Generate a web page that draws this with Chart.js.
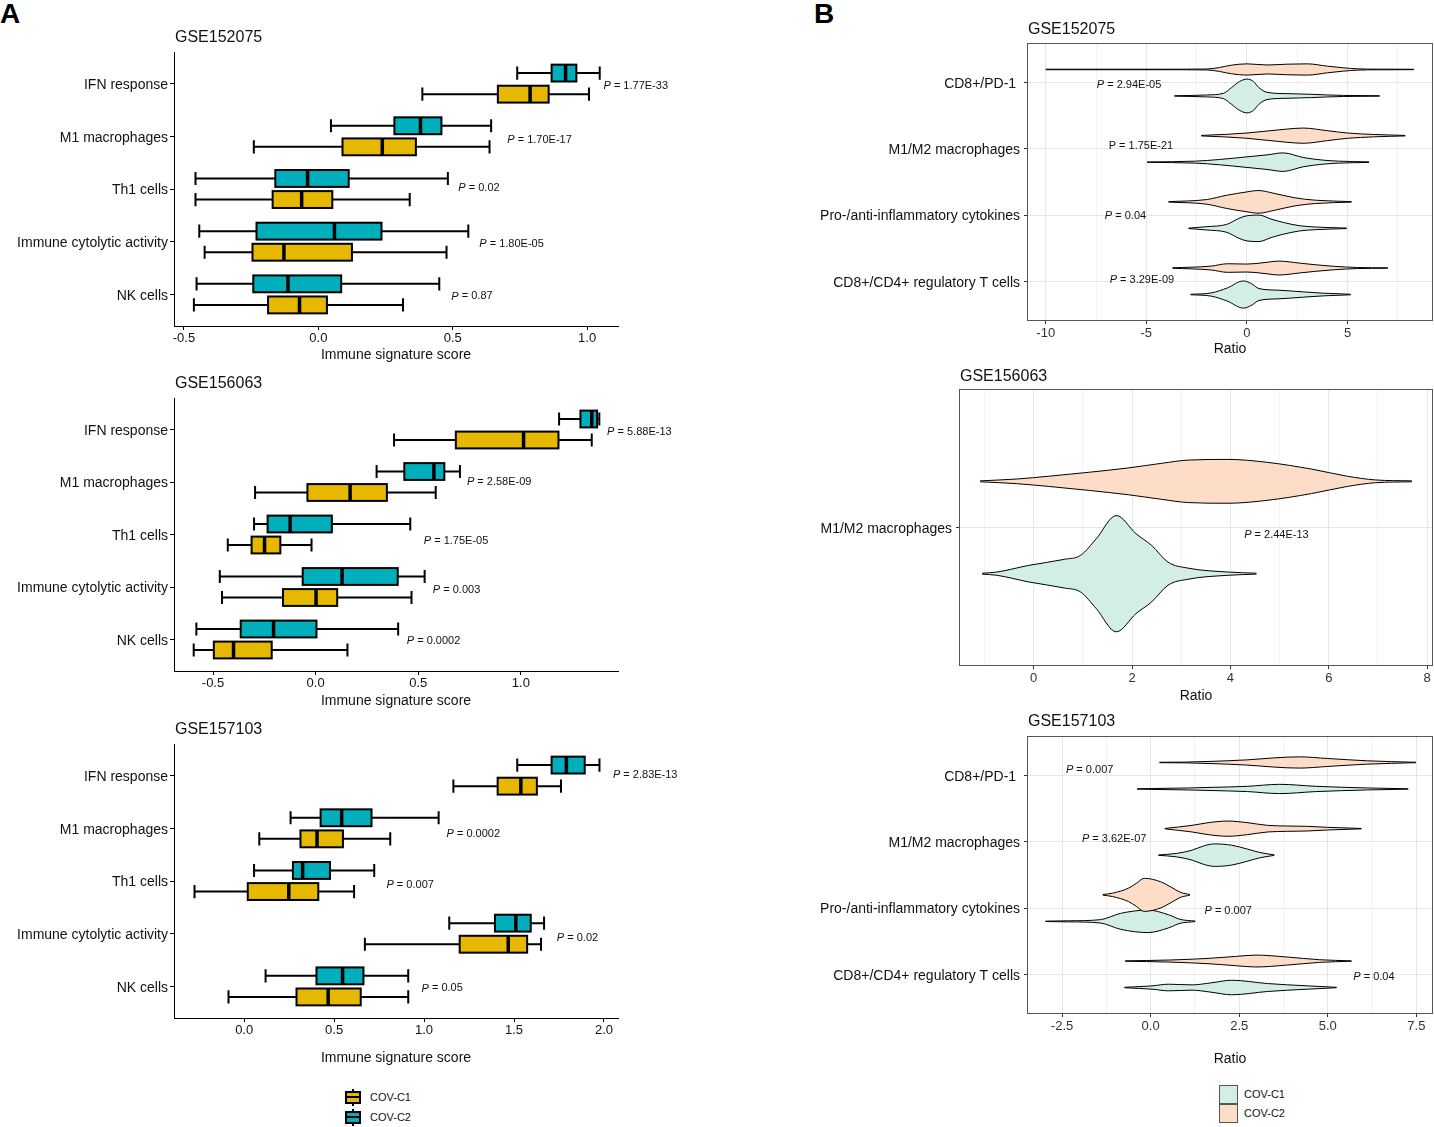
<!DOCTYPE html>
<html>
<head>
<meta charset="utf-8">
<script src="https://cdn.jsdelivr.net/npm/chart.js@4.4.1/dist/chart.umd.min.js"></script>
<style>
  body { margin: 0; width: 1434px; height: 1127px; position: relative; background: #fff; overflow: hidden;
         font-family: "Liberation Sans", Arial, sans-serif; color: #111; }
  canvas { position: absolute; }
  .tag { position: absolute; top: 0; font-size: 28px; line-height: 28px; font-weight: bold; color: #000; }
  .bk { position: absolute; width: 16px; height: 17px; }
  .bk::before { content: ''; position: absolute; left: 7px; top: 0; width: 2px; height: 17px; background: #000; }
  .bk::after { content: ''; position: absolute; left: 0; top: 2px; width: 12px; height: 9px; border: 2px solid #000; background: var(--c); }
  .bk span { position: absolute; left: 2px; top: 7px; width: 12px; height: 2px; background: #000; z-index: 1; }
  .sq { position: absolute; width: 17px; height: 17px; border: 1px solid #555; }
  .lt { position: absolute; font-size: 11px; line-height: 12px; color: #111; }
</style>
</head>
<body>
<div class="tag" style="left:0">A</div>
<div class="tag" style="left:814px">B</div>

<canvas id="a1"></canvas>
<canvas id="a2"></canvas>
<canvas id="a3"></canvas>
<canvas id="b1"></canvas>
<canvas id="b2"></canvas>
<canvas id="b3"></canvas>

<div class="bk" style="left:345px;top:1089px;--c:#E7B800"><span></span></div>
<div class="lt" style="left:370px;top:1091px">COV-C1</div>
<div class="bk" style="left:345px;top:1109px;--c:#00AFBB"><span></span></div>
<div class="lt" style="left:370px;top:1111px">COV-C2</div>

<div class="sq" style="left:1219px;top:1085px;background:#D3EFE4"></div>
<div class="lt" style="left:1244px;top:1088px">COV-C1</div>
<div class="sq" style="left:1219px;top:1104px;background:#FDDCC8"></div>
<div class="lt" style="left:1244px;top:1107px">COV-C2</div>

<script>
const FONT = '"Liberation Sans", Arial, sans-serif';
const GOLD = '#E7B800', TEAL = '#00AFBB', ORANGE = '#FDDCC8', GREEN = '#D3EFE4';

// ---- panel A: immune signature scores, [lower whisker, Q1, median, Q3, upper whisker]
const boxCats = ['IFN response', 'M1 macrophages', 'Th1 cells', 'Immune cytolytic activity', 'NK cells'];

const a1C1 = [[0.387, 0.668, 0.788, 0.857, 1.007], [-0.24, 0.09, 0.238, 0.363, 0.637], [-0.457, -0.17, -0.062, 0.052, 0.34],
              [-0.423, -0.245, -0.128, 0.125, 0.477], [-0.463, -0.187, -0.07, 0.032, 0.315]];
const a1C2 = [[0.74, 0.868, 0.92, 0.96, 1.047], [0.047, 0.283, 0.38, 0.458, 0.643], [-0.457, -0.16, -0.04, 0.113, 0.482],
              [-0.443, -0.23, 0.06, 0.235, 0.558], [-0.453, -0.242, -0.113, 0.085, 0.45]];
const a1P = ['1.77E-33', '1.70E-17', '0.02', '1.80E-05', '0.87'];
const a1PX = [1.061, 0.703, 0.521, 0.599, 0.495];
const a1PY = [1.02, 2.05, 2.96, 4.02, 5.02];

const a2C1 = [[0.382, 0.683, 1.013, 1.183, 1.345], [-0.295, -0.04, 0.168, 0.347, 0.585], [-0.428, -0.312, -0.249, -0.172, -0.02],
              [-0.456, -0.159, 0.002, 0.105, 0.467], [-0.594, -0.496, -0.40, -0.214, 0.155]];
const a2C2 = [[1.186, 1.29, 1.345, 1.371, 1.382], [0.297, 0.432, 0.576, 0.627, 0.703], [-0.30, -0.234, -0.124, 0.079, 0.461],
              [-0.467, -0.063, 0.129, 0.40, 0.531], [-0.581, -0.365, -0.205, 0.004, 0.402]];
const a2P = ['5.88E-13', '2.58E-09', '1.75E-05', '0.003', '0.0002'];
const a2PX = [1.42, 0.737, 0.527, 0.571, 0.444];
const a2PY = [1.02, 1.98, 3.1, 4.04, 5.0];

const a3C1 = [[1.163, 1.409, 1.538, 1.627, 1.761], [0.084, 0.313, 0.405, 0.549, 0.812], [-0.276, 0.02, 0.248, 0.412, 0.611],
              [0.671, 1.198, 1.468, 1.573, 1.65], [-0.087, 0.291, 0.467, 0.648, 0.912]];
const a3C2 = [[1.518, 1.709, 1.791, 1.893, 1.975], [0.258, 0.425, 0.542, 0.708, 1.081], [0.055, 0.271, 0.325, 0.477, 0.723],
              [1.14, 1.394, 1.51, 1.593, 1.667], [0.119, 0.402, 0.547, 0.663, 0.912]];
const a3P = ['2.83E-13', '0.0002', '0.007', '0.02', '0.05'];
const a3PX = [2.05, 1.125, 0.791, 1.738, 0.986];
const a3PY = [0.96, 2.08, 3.06, 4.06, 5.02];

const aTicks1 = [-0.5, 0, 0.5, 1.0];
const aTicks2 = [-0.5, 0, 0.5, 1.0];
const aTicks3 = [0, 0.5, 1.0, 1.5, 2.0];

// ---- panel B: ratio violins, density outline as (ratio, half width in category units)
const violinCats = ['CD8+/PD-1 ', 'M1/M2 macrophages', 'Pro-/anti-inflammatory cytokines', 'CD8+/CD4+ regulatory T cells'];
const violinCats2 = ['M1/M2 macrophages'];

const b1C2X = [[-10, -4, -2, -1.36, -0.77, 0, 1, 2, 3, 4, 4.8, 5.5, 6.5, 8.3],
               [-2.27, -1, 0, 1, 2, 2.8, 4, 5, 6.3, 7.87],
               [-3.9, -2, -1, 0, 0.55, 1.4, 2.4, 3.4, 5.2],
               [-3.7, -1.76, -0.97, 0, 0.8, 1.6, 2.6, 3.4, 4.37, 5.5, 7.0]];
const b1C2W = [[0.004, 0.004, 0.007, 0.03, 0.065, 0.085, 0.068, 0.08, 0.085, 0.05, 0.025, 0.01, 0.005, 0.003],
               [0.004, 0.02, 0.04, 0.07, 0.1, 0.115, 0.075, 0.04, 0.018, 0.004],
               [0.003, 0.035, 0.1, 0.15, 0.172, 0.125, 0.06, 0.025, 0.004],
               [0.003, 0.03, 0.065, 0.06, 0.08, 0.105, 0.075, 0.05, 0.025, 0.008, 0.003]];
const b1C1X = [[-3.6, -1.96, -1.17, -0.77, -0.38, 0, 0.32, 0.6, 1, 2, 3.2, 4, 4.8, 6.6],
               [-4.96, -2.55, -1.36, 0, 1, 1.8, 2.8, 3.8, 4.56, 6.07],
               [-2.9, -2, -1, -0.4, 0, 0.6, 1.2, 1.8, 2.6, 3.4, 4.96],
               [-2.8, -1.76, -0.97, -0.18, 0.22, 0.6, 1.6, 2.8, 3.8, 5.16]];
const b1C1W = [[0.003, 0.015, 0.04, 0.125, 0.215, 0.255, 0.22, 0.125, 0.055, 0.035, 0.025, 0.015, 0.008, 0.003],
               [0.003, 0.015, 0.04, 0.08, 0.11, 0.14, 0.07, 0.03, 0.015, 0.004],
               [0.003, 0.025, 0.06, 0.15, 0.19, 0.2, 0.14, 0.09, 0.04, 0.02, 0.004],
               [0.003, 0.025, 0.1, 0.205, 0.165, 0.09, 0.065, 0.04, 0.02, 0.004]];
const b1P = ['2.94E-05', '1.75E-21', '0.04', '3.29E-09'];
const b1PX = [-7.46, -6.87, -7.06, -6.82];
const b1PY = [1.02, 1.94, 3.0, 3.97];
const b1PItalic = [true, false, true, true];

const b2C2X = [[-1.09, -0.35, 0.3, 1.11, 1.92, 2.6, 3.14, 3.95, 4.76, 5.65, 6.38, 6.95, 7.69]];
const b2C2W = [[0.002, 0.01, 0.022, 0.039, 0.058, 0.078, 0.092, 0.095, 0.082, 0.053, 0.022, 0.006, 0.002]];
const b2C1X = [[-1.05, -0.75, -0.1, 0.62, 0.95, 1.27, 1.68, 2.08, 2.4, 2.73, 3.14, 3.95, 4.53]];
const b2C1W = [[0.002, 0.007, 0.036, 0.062, 0.079, 0.151, 0.252, 0.173, 0.122, 0.05, 0.024, 0.007, 0.002]];
const b2P = ['2.44E-13'];
const b2PX = [4.28];
const b2PY = [1.03];

const b3C2X = [[0.25, 1.0, 1.62, 2.74, 3.5, 4.2, 5.0, 6.12, 7.49],
               [0.4, 1.17, 1.62, 2.18, 2.74, 3.3, 4.43, 5.0, 5.95],
               [-1.35, -1.08, -0.63, -0.4, -0.18, 0.27, 0.6, 0.83, 1.11],
               [-0.72, 0.5, 1.62, 2.4, 2.97, 3.87, 4.77, 5.67]];
const b3C2W = [[0.003, 0.006, 0.015, 0.04, 0.07, 0.085, 0.06, 0.025, 0.003],
               [0.003, 0.05, 0.09, 0.115, 0.09, 0.05, 0.035, 0.02, 0.003],
               [0.004, 0.025, 0.1, 0.175, 0.25, 0.2, 0.11, 0.04, 0.004],
               [0.003, 0.015, 0.04, 0.07, 0.09, 0.06, 0.02, 0.003]];
const b3C1X = [[-0.38, 1.06, 2.2, 2.74, 3.64, 4.66, 6.12, 7.27],
               [0.22, 0.72, 1.17, 1.5, 1.8, 2.29, 2.74, 3.08, 3.49],
               [-2.97, -2.32, -1.42, -0.85, -0.07, 0.5, 0.83, 1.26],
               [-0.74, 0.04, 0.5, 1.17, 1.7, 2.29, 3.3, 4.43, 5.25]];
const b3C1W = [[0.003, 0.015, 0.03, 0.04, 0.07, 0.04, 0.015, 0.003],
               [0.003, 0.025, 0.075, 0.14, 0.17, 0.15, 0.09, 0.04, 0.004],
               [0.003, 0.008, 0.025, 0.12, 0.17, 0.1, 0.03, 0.004],
               [0.003, 0.025, 0.05, 0.04, 0.07, 0.11, 0.06, 0.025, 0.003]];
const b3P = ['0.007', '3.62E-07', '0.007', '0.04'];
const b3PX = [-2.39, -1.94, 1.52, 5.72];
const b3PY = [0.9, 1.94, 3.03, 4.03];

const bMajor1 = [-10, -5, 0, 5], bMinor1 = [-7.5, -2.5, 2.5, 7.5];
const bMajor2 = [0, 2, 4, 6, 8], bMinor2 = [-1, 1, 3, 5, 7];
const bMajor3 = [-2.5, 0, 2.5, 5, 7.5], bMinor3 = [-1.25, 1.25, 3.75, 6.25];

// ---- drawing helpers
function drawBox(ctx, xs, ys, s, yc, fill) {
  const [lo, q1, md, q3, hi] = s.map(v => xs.getPixelForValue(v));
  const ym = ys.getPixelForValue(yc);
  const bt = ys.getPixelForValue(yc - 0.16), bb = ys.getPixelForValue(yc + 0.16);
  const ct = ys.getPixelForValue(yc - 0.125), cb = ys.getPixelForValue(yc + 0.125);
  ctx.strokeStyle = '#000';
  ctx.lineWidth = 2;
  ctx.beginPath();
  ctx.moveTo(lo, ym); ctx.lineTo(q1, ym);
  ctx.moveTo(q3, ym); ctx.lineTo(hi, ym);
  ctx.moveTo(lo, ct); ctx.lineTo(lo, cb);
  ctx.moveTo(hi, ct); ctx.lineTo(hi, cb);
  ctx.stroke();
  ctx.fillStyle = fill;
  ctx.fillRect(q1, bt, q3 - q1, bb - bt);
  ctx.strokeRect(q1, bt, q3 - q1, bb - bt);
  ctx.lineWidth = 3.5;
  ctx.beginPath(); ctx.moveTo(md, bt); ctx.lineTo(md, bb); ctx.stroke();
}

function drawP(ctx, px, py, txt, italic) {
  ctx.textAlign = 'left'; ctx.textBaseline = 'middle'; ctx.fillStyle = '#111';
  ctx.font = (italic ? 'italic ' : '') + '11px ' + FONT;
  ctx.fillText('P', px, py + 1);
  const w = ctx.measureText('P').width;
  ctx.font = '11px ' + FONT;
  ctx.fillText(' = ' + txt, px + w, py + 1);
}

function violinSets(c1x, c1w, c2x, c2w) {
  const sets = [];
  const add = (xs, ws, yc, fill) => {
    const common = { showLine: true, pointRadius: 0, borderColor: '#000', borderWidth: 1,
                     cubicInterpolationMode: 'monotone', backgroundColor: fill };
    sets.push({ ...common, fill: false, data: xs.map((v, j) => ({ x: v, y: yc - ws[j] })) });
    sets.push({ ...common, fill: '-1', data: xs.map((v, j) => ({ x: v, y: yc + ws[j] })) });
  };
  c1x.forEach((xs, i) => {
    add(c2x[i], c2w[i], i + 1 - 0.2, ORANGE);
    add(xs, c1w[i], i + 1 + 0.2, GREEN);
  });
  return sets;
}

function panelPlugin(o) {
  return {
    id: 'panel_' + o.id,
    afterDatasetsDraw(chart) {
      const { ctx, chartArea: a, scales: { x, y } } = chart;
      ctx.save();
      (o.boxes || []).forEach(b => b.stats.forEach((s, i) => drawBox(ctx, x, y, s, i + 1 + b.off, b.fill)));
      if (o.frame) {
        ctx.strokeStyle = '#555'; ctx.lineWidth = 1;
        ctx.strokeRect(a.left + 0.5, a.top + 0.5, a.right - a.left - 1, a.bottom - a.top - 1);
      }
      o.pText.forEach((t, i) => drawP(ctx, x.getPixelForValue(o.pX[i]), y.getPixelForValue(o.pY[i]), t,
                                      o.pItalic ? o.pItalic[i] : true));
      ctx.fillStyle = '#111'; ctx.textBaseline = 'middle';
      ctx.font = '16px ' + FONT; ctx.textAlign = 'left';
      ctx.fillText(o.title, a.left + 1, a.top - o.titleGap);
      ctx.font = '14px ' + FONT; ctx.textAlign = 'center';
      ctx.fillText(o.xTitle, (a.left + a.right) / 2, a.bottom + o.xTitleGap);
      ctx.restore();
    }
  };
}

function makeChart(o) {
  const cv = document.getElementById(o.id);
  const [cx, cy, cw, ch] = o.canvas;
  const [pl, pt, pr, pb] = o.plot;
  cv.width = cw; cv.height = ch;
  Object.assign(cv.style, { left: cx + 'px', top: cy + 'px', width: cw + 'px', height: ch + 'px' });
  const bw = !!o.frame;
  const minor = o.xMinor || [];
  const xTicks = o.xMajor.concat(minor).sort((p, q) => p - q);
  const tickVal = c => (c.tick ? c.tick.value : null);
  return new Chart(cv, {
    type: 'scatter',
    data: { datasets: o.datasets || [] },
    options: {
      responsive: false, animation: false, events: [],
      layout: { padding: { left: 0, top: pt - cy, right: cx + cw - pr, bottom: 0 } },
      plugins: { legend: { display: false }, tooltip: { enabled: false } },
      scales: {
        x: {
          type: 'linear', min: o.xRange[0], max: o.xRange[1],
          afterFit: s => { s.height = cy + ch - pb; },
          afterBuildTicks: s => { s.ticks = xTicks.map(v => ({ value: v })); },
          ticks: { autoSkip: false, maxRotation: 0, padding: bw ? 2 : 1, color: bw ? '#333' : '#111',
                   font: { family: FONT, size: 13 }, callback: v => (o.xMajor.includes(v) ? o.fmt(v) : '') },
          grid: bw ? { drawOnChartArea: true, tickLength: 3, lineWidth: 1,
                       color: c => (minor.includes(tickVal(c)) ? '#F3F3F3' : '#E6E6E6'),
                       tickColor: c => (o.xMajor.includes(tickVal(c)) ? '#333' : 'rgba(0,0,0,0)') }
                   : { drawOnChartArea: false, tickLength: 4, tickColor: '#000', lineWidth: 1 },
          border: bw ? { display: false } : { display: true, color: '#000', width: 1 }
        },
        y: {
          type: 'linear', min: 0.4, max: o.cats.length + 0.6, reverse: true,
          afterFit: s => { s.width = pl - cx; },
          afterBuildTicks: s => { s.ticks = o.cats.map((c, i) => ({ value: i + 1 })); },
          ticks: { autoSkip: false, padding: bw ? 4 : 2, color: '#111', labelOffset: 1.5,
                   font: { family: FONT, size: 14 }, callback: v => o.cats[v - 1] },
          grid: bw ? { drawOnChartArea: true, tickLength: 3, color: '#E6E6E6', tickColor: '#333', lineWidth: 1 }
                   : { drawOnChartArea: false, tickLength: 4, tickColor: '#000', lineWidth: 1 },
          border: bw ? { display: false } : { display: true, color: '#000', width: 1 }
        }
      }
    },
    plugins: [panelPlugin(o)]
  });
}

const fmt1 = v => v.toFixed(1);
const fmt0 = v => String(v);

makeChart({ id: 'a1', canvas: [0, 20, 700, 350], plot: [174, 52, 618, 326], xRange: [-0.537, 1.115],
  xMajor: aTicks1, fmt: fmt1, cats: boxCats, title: 'GSE152075', titleGap: 14,
  xTitle: 'Immune signature score', xTitleGap: 29,
  boxes: [{ stats: a1C2, off: -0.2, fill: TEAL }, { stats: a1C1, off: 0.2, fill: GOLD }],
  pText: a1P, pX: a1PX, pY: a1PY });

makeChart({ id: 'a2', canvas: [0, 370, 700, 346], plot: [174, 398, 618, 671], xRange: [-0.69, 1.473],
  xMajor: aTicks2, fmt: fmt1, cats: boxCats, title: 'GSE156063', titleGap: 14,
  xTitle: 'Immune signature score', xTitleGap: 30,
  boxes: [{ stats: a2C2, off: -0.2, fill: TEAL }, { stats: a2C1, off: 0.2, fill: GOLD }],
  pText: a2P, pX: a2PX, pY: a2PY });

makeChart({ id: 'a3', canvas: [0, 716, 700, 359], plot: [174, 744, 618, 1018], xRange: [-0.39, 2.078],
  xMajor: aTicks3, fmt: fmt1, cats: boxCats, title: 'GSE157103', titleGap: 14,
  xTitle: 'Immune signature score', xTitleGap: 40,
  boxes: [{ stats: a3C2, off: -0.2, fill: TEAL }, { stats: a3C1, off: 0.2, fill: GOLD }],
  pText: a3P, pX: a3PX, pY: a3PY });

makeChart({ id: 'b1', canvas: [810, 15, 624, 345], plot: [1027, 43, 1433, 321], xRange: [-10.93, 9.25],
  xMajor: bMajor1, xMinor: bMinor1, fmt: fmt0, cats: violinCats, frame: true,
  title: 'GSE152075', titleGap: 13, xTitle: 'Ratio', xTitleGap: 28,
  datasets: violinSets(b1C1X, b1C1W, b1C2X, b1C2W),
  pText: b1P, pX: b1PX, pY: b1PY, pItalic: b1PItalic });

makeChart({ id: 'b2', canvas: [810, 360, 624, 346], plot: [959, 389, 1433, 666], xRange: [-1.52, 8.12],
  xMajor: bMajor2, xMinor: bMinor2, fmt: fmt0, cats: violinCats2, frame: true,
  title: 'GSE156063', titleGap: 12, xTitle: 'Ratio', xTitleGap: 30,
  datasets: violinSets(b2C1X, b2C1W, b2C2X, b2C2W),
  pText: b2P, pX: b2PX, pY: b2PY });

makeChart({ id: 'b3', canvas: [810, 706, 624, 369], plot: [1027, 736, 1433, 1014], xRange: [-3.49, 7.97],
  xMajor: bMajor3, xMinor: bMinor3, fmt: fmt1, cats: violinCats, frame: true,
  title: 'GSE157103', titleGap: 14, xTitle: 'Ratio', xTitleGap: 45,
  datasets: violinSets(b3C1X, b3C1W, b3C2X, b3C2W),
  pText: b3P, pX: b3PX, pY: b3PY });
</script>
</body>
</html>
